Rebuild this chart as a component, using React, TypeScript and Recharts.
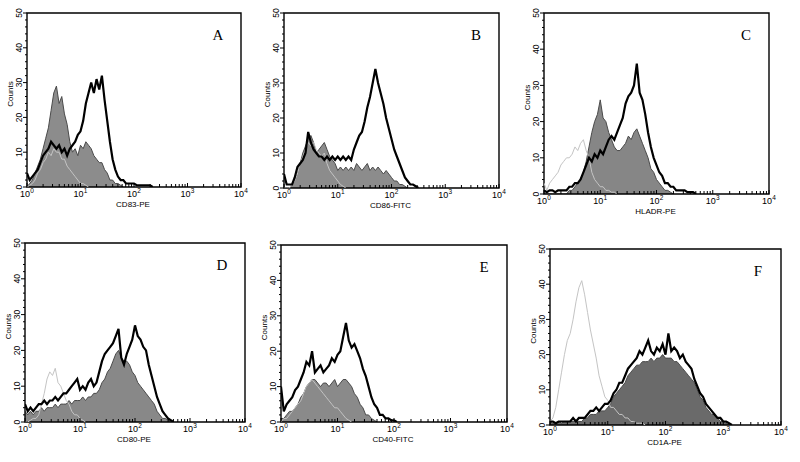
import React from 'react';
import { ComposedChart, Area, Line, XAxis, YAxis, ReferenceArea } from 'recharts';

// Channel positions in decades (log10 of fluorescence), shared by every histogram
const BINS = [0, 0.05, 0.1, 0.15, 0.2, 0.25, 0.3, 0.35, 0.4, 0.45, 0.5, 0.55, 0.6, 0.65, 0.7, 0.75, 0.8, 0.85, 0.9, 0.95,
  1, 1.05, 1.1, 1.15, 1.2, 1.25, 1.3, 1.35, 1.4, 1.45, 1.5, 1.55, 1.6, 1.65, 1.7, 1.75, 1.8, 1.85, 1.9, 1.95,
  2, 2.05, 2.1, 2.15, 2.2, 2.25, 2.3, 2.35, 2.4, 2.45, 2.5, 2.55, 2.6, 2.65, 2.7, 2.75, 2.8, 2.85, 2.9, 2.95,
  3, 3.05, 3.1, 3.15, 3.2];

const X_DECADES = [0, 1, 2, 3, 4];
const Y_TICKS = [0, 2, 4, 6, 8, 10, 12, 14, 16, 18, 20, 22, 24, 26, 28, 30, 32, 34, 36, 38, 40, 42, 44, 46, 48, 50];

// A: CD83-PE
const A_FILLED = [0, 1, 2, 4, 6, 8, 11, 14, 17, 22, 27, 29, 24, 26, 21, 18, 13, 10, 11, 9, 12, 11, 13, 12, 11, 9, 8, 7, 7, 5, 4, 2, 2, 1, 1, 0.5, 0];
const A_CONTROL = [0, 0.5, 1, 2, 4, 5, 7, 8, 10, 9, 11, 10, 10, 8, 8, 6, 5, 4, 3, 2, 1, 1, 0.5, 0];
const A_STAINED = [4, 2, 3, 4, 5, 7, 9, 10, 11, 13, 12, 11, 12, 10, 11, 9, 11, 12, 13, 15, 16, 19, 24, 27, 30, 27, 31, 28, 32, 25, 19, 13, 8, 5, 3, 2, 2, 1, 1, 1, 1, 0.5, 0.5, 0.5, 0.5, 0.5, 0.5, 0];

// B: CD86-FITC
const B_FILLED = [0, 0, 0, 1, 2, 4, 7, 10, 12, 14, 15, 13, 10, 11, 12, 13, 11, 9, 8, 7, 5, 6, 5, 6, 5, 6, 5, 7, 6, 5, 6, 7, 5, 6, 5, 6, 5, 4, 5, 4, 3, 2, 2, 1, 1, 0.5, 0];
const B_CONTROL = [0, 0, 0, 1, 2, 4, 7, 9, 11, 13, 12, 13, 11, 10, 9, 10, 7, 5, 4, 3, 2, 1, 0.5, 0];
const B_STAINED = [4, 1, 1, 1, 3, 6, 7, 8, 10, 16, 13, 11, 10, 9, 9, 8, 9, 8, 9, 8, 9, 8, 9, 8, 9, 8, 11, 13, 15, 16, 19, 23, 26, 30, 34, 30, 27, 24, 20, 17, 14, 11, 9, 7, 5, 3, 2, 1, 1, 0.5, 0];

// C: HLADR-PE
const C_FILLED = [0, 0, 0, 0, 0, 0, 0, 0, 0, 1, 1, 2, 3, 4, 6, 9, 13, 17, 20, 22, 26, 21, 20, 17, 15, 13, 12, 12, 13, 14, 16, 15, 17, 18, 16, 14, 12, 10, 7, 6, 4, 3, 2, 1, 1, 0.5, 0];
const C_CONTROL = [3, 1, 3, 4, 5, 6, 8, 9, 10, 10, 11, 13, 12, 14, 15, 12, 10, 6, 4, 3, 2, 2, 1, 1, 0.5, 0.5, 0];
const C_STAINED = [1, 0.5, 1, 1, 0.5, 1, 1, 1, 1, 2, 2, 3, 3, 4, 6, 8, 10, 9, 11, 10, 12, 11, 13, 15, 16, 15, 17, 19, 21, 25, 27, 28, 30, 36, 28, 26, 22, 17, 13, 10, 8, 6, 5, 3, 3, 2, 2, 1, 1, 1, 1, 0.5, 0.5, 0.5, 0];

// D: CD80-PE
const D_FILLED = [3, 2, 3, 2, 3, 3, 4, 3, 4, 4, 4, 5, 4, 5, 5, 5, 6, 5, 6, 6, 6, 7, 6, 7, 7, 8, 8, 9, 11, 12, 14, 15, 17, 19, 20, 18, 17, 17, 16, 14, 13, 11, 10, 9, 8, 7, 6, 5, 3, 2, 1, 1, 0.5, 0];
const D_CONTROL = [0, 0, 0.5, 1, 1, 2, 5, 8, 12, 14, 13, 15, 11, 10, 8, 6, 5, 3, 2, 2, 1, 0.5, 0];
const D_STAINED = [5, 3, 4, 3, 4, 5, 5, 6, 5, 6, 6, 7, 6, 7, 8, 8, 9, 10, 11, 12, 9, 10, 9, 11, 12, 10, 11, 14, 17, 19, 20, 21, 22, 24, 26, 18, 16, 19, 21, 23, 27, 24, 23, 21, 20, 16, 13, 10, 7, 5, 3, 2, 1, 0.5, 0];

// E: CD40-FITC
const E_FILLED = [1, 1, 2, 3, 3, 4, 5, 7, 8, 10, 11, 12, 12, 11, 10, 11, 11, 10, 11, 12, 10, 11, 12, 12, 11, 10, 8, 7, 5, 4, 2, 2, 1, 0.5, 0];
const E_CONTROL = [0, 1, 1, 2, 3, 4, 5, 6, 8, 10, 11, 12, 11, 10, 9, 8, 7, 6, 5, 4, 4, 3, 2, 1, 0.5, 0];
const E_STAINED = [10, 3, 5, 6, 7, 9, 10, 12, 14, 17, 16, 20, 14, 15, 16, 14, 15, 16, 18, 17, 19, 20, 24, 28, 23, 21, 22, 20, 18, 15, 13, 10, 7, 5, 4, 2, 2, 1, 1, 0.5, 0.5, 0];

// F: CD1A-PE
const F_FILLED = [1, 0.5, 0.5, 1, 0.5, 1, 1, 1, 1, 1, 1, 1, 2, 2, 3, 3, 3, 4, 4, 4, 5, 6, 8, 9, 10, 11, 12, 14, 15, 16, 17, 17, 18, 18, 18, 19, 18, 19, 19, 20, 19, 19, 19, 18, 18, 17, 16, 15, 14, 13, 12, 10, 8, 7, 5, 4, 3, 3, 2, 1, 1, 0.5, 0];
const F_CONTROL = [1, 2, 5, 10, 15, 20, 24, 26, 30, 35, 39, 41, 37, 32, 27, 23, 19, 14, 11, 8, 7, 5, 5, 4, 3, 3, 2, 2, 1, 1, 0.5, 0.5, 0.5, 0];
const F_STAINED = [1, 1, 0.5, 1, 1, 1, 1, 1, 2, 1, 2, 2, 2, 3, 4, 4, 5, 4, 5, 6, 6, 7, 9, 10, 12, 12, 14, 16, 17, 18, 19, 21, 20, 22, 24, 21, 20, 22, 21, 23, 20, 26, 21, 22, 21, 19, 20, 18, 17, 16, 13, 11, 9, 8, 6, 5, 4, 3, 2, 2, 1, 1, 0.5, 0];

const PANELS = [
  { letter: 'A', marker: 'CD83-PE', filled: A_FILLED, control: A_CONTROL, stained: A_STAINED, box: [27, 13, 241, 187], fillColor: '#8c8c8c' },
  { letter: 'B', marker: 'CD86-FITC', filled: B_FILLED, control: B_CONTROL, stained: B_STAINED, box: [284, 13, 499, 188], fillColor: '#8c8c8c' },
  { letter: 'C', marker: 'HLADR-PE', filled: C_FILLED, control: C_CONTROL, stained: C_STAINED, box: [544, 13, 769, 194], fillColor: '#868686' },
  { letter: 'D', marker: 'CD80-PE', filled: D_FILLED, control: D_CONTROL, stained: D_STAINED, box: [25, 243, 245, 422], fillColor: '#888888' },
  { letter: 'E', marker: 'CD40-FITC', filled: E_FILLED, control: E_CONTROL, stained: E_STAINED, box: [281, 245, 507, 422], fillColor: '#8a8a8a' },
  { letter: 'F', marker: 'CD1A-PE', filled: F_FILLED, control: F_CONTROL, stained: F_STAINED, box: [550, 249, 781, 425], fillColor: '#6a6a6a' },
];

const X_TICKS: number[] = [];
X_DECADES.forEach((d) => {
  if (d < 4) {
    for (let m = 1; m <= 9; m++) X_TICKS.push(d + Math.log10(m));
  } else {
    X_TICKS.push(d);
  }
});

const SANS = '"Liberation Sans", Arial, sans-serif';
const SERIF = '"Liberation Serif", "Times New Roman", serif';

const XTick = (props: any) => {
  const { x, y, payload } = props;
  const v = payload.value as number;
  const major = Math.abs(v - Math.round(v)) < 1e-6;
  return (
    <g>
      <line x1={x} x2={x} y1={y} y2={y - (major ? 4 : 3)} stroke="#000" strokeWidth={1} />
      {major && (
        <text x={x - 2} y={y + 9.5} textAnchor="middle" fontSize={9} fontFamily={SANS} fill="#000">10</text>
      )}
      {major && (
        <text x={x + 3.2} y={y + 5.5} textAnchor="start" fontSize={6.5} fontFamily={SANS} fill="#000">{Math.round(v)}</text>
      )}
    </g>
  );
};

const YTick = (props: any) => {
  const { x, y, payload } = props;
  const v = payload.value as number;
  const major = v % 10 === 0;
  const tx = x - 5;
  return (
    <g>
      <line x1={x} x2={x - (major ? 4 : 2)} y1={y} y2={y} stroke="#000" strokeWidth={1} />
      {major && (
        <text x={tx} y={y} transform={`rotate(-90 ${tx} ${y})`} textAnchor="middle" fontSize={8.5} fontFamily={SANS} fill="#000">{v}</text>
      )}
    </g>
  );
};

const Histogram = ({ p }: { p: any }) => {
  const [x0, y0, x1, y1] = p.box;
  const w = x1 - x0 + 40;
  const h = y1 - y0 + 40;
  const rows = BINS.map((x, i) => ({ x, filled: p.filled[i], control: p.control[i], stained: p.stained[i] }));
  return (
    <div style={{ position: 'absolute', left: x0 - 30, top: y0 - 10, width: w, height: h }}>
      <ComposedChart width={w} height={h} data={rows} margin={{ top: 10, right: 10, bottom: 0, left: 0 }}>
        <XAxis
          type="number"
          dataKey="x"
          domain={[0, 4]}
          ticks={X_TICKS}
          interval={0}
          height={30}
          axisLine={false}
          tickLine={false}
          tickSize={0}
          tickMargin={0}
          tick={<XTick />}
          allowDataOverflow
        />
        <YAxis
          type="number"
          domain={[0, 50]}
          ticks={Y_TICKS}
          interval={0}
          width={30}
          axisLine={false}
          tickLine={false}
          tickSize={0}
          tickMargin={0}
          tick={<YTick />}
          allowDataOverflow
        />
        <Area type="linear" dataKey="filled" stroke="#4a4a4a" strokeWidth={1} fill={p.fillColor} fillOpacity={1} isAnimationActive={false} dot={false} activeDot={false} />
        <Line type="linear" dataKey="control" stroke="#c4c4c4" strokeWidth={1} dot={false} activeDot={false} isAnimationActive={false} />
        <Line type="linear" dataKey="stained" stroke="#000" strokeWidth={2.2} dot={false} activeDot={false} isAnimationActive={false} />
        <ReferenceArea x1={0} x2={4} y1={0} y2={50} fill="none" fillOpacity={0} stroke="#000" strokeWidth={1.4} ifOverflow="visible" />
      </ComposedChart>
    </div>
  );
};

export default function App() {
  return (
    <div style={{ position: 'absolute', left: 0, top: 0, width: 800, height: 462, background: '#fff', overflow: 'hidden' }}>
      {PANELS.map((p) => (
        <Histogram key={p.letter} p={p} />
      ))}
      <svg width={800} height={462} style={{ position: 'absolute', left: 0, top: 0, pointerEvents: 'none' }}>
        {PANELS.map((p) => {
          const [x0, y0, x1, y1] = p.box;
          const cx = (x0 + x1) / 2;
          const cy = (y0 + y1) / 2 - 6;
          const lx = x0 - 14;
          return (
            <g key={p.letter}>
              <text x={x1 - 23} y={y0 + 27} textAnchor="middle" fontSize={15} fontFamily={SERIF} fill="#000">{p.letter}</text>
              <text x={cx - 1} y={y1 + 19.5} textAnchor="middle" fontSize={8} fontFamily={SANS} fill="#000">{p.marker}</text>
              <text x={lx} y={cy} transform={`rotate(-90 ${lx} ${cy})`} textAnchor="middle" fontSize={8} fontFamily={SANS} fill="#000">Counts</text>
            </g>
          );
        })}
      </svg>
    </div>
  );
}
